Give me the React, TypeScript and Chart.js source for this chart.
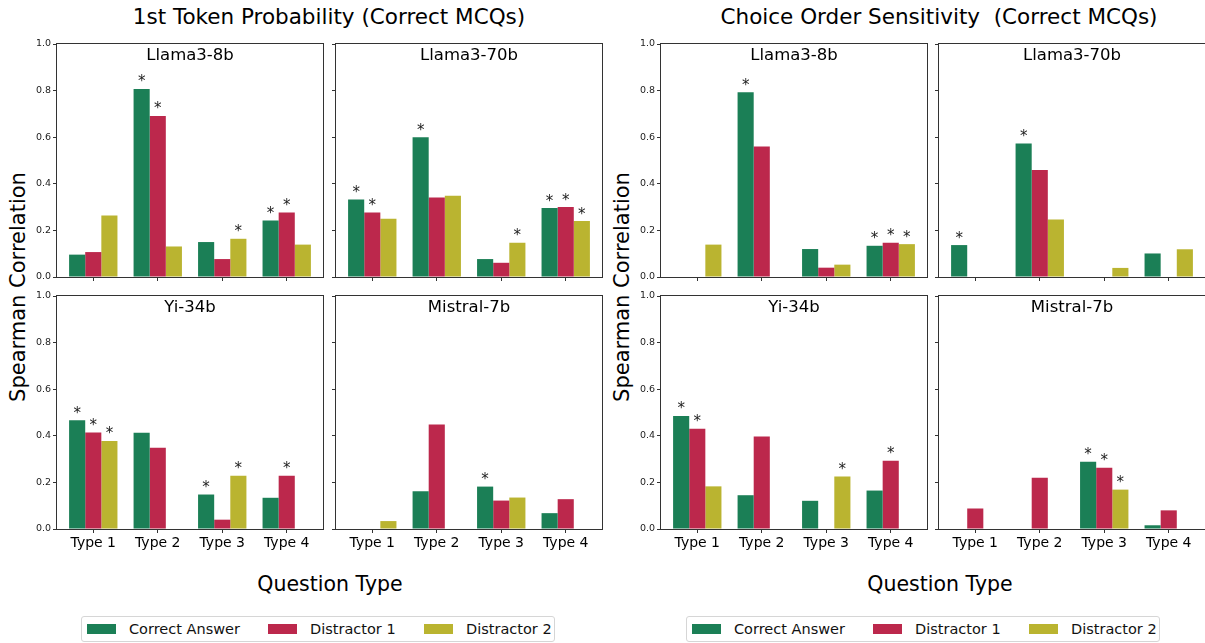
import React, { useEffect, useRef } from "react";
import { Chart, registerables } from "chart.js";

Chart.register(...registerables);

const categories = ["Type 1", "Type 2", "Type 3", "Type 4"];
const seriesNames = ["Correct Answer", "Distractor 1", "Distractor 2"];
const seriesColors = ["#1b7f56", "#bc284c", "#bab430"];
const yTickValues = [0, 0.2, 0.4, 0.6, 0.8, 1.0];
const modelNames = ["Llama3-8b", "Llama3-70b", "Yi-34b", "Mistral-7b"];
const groupTitles = ["1st Token Probability (Correct MCQs)", "Choice Order Sensitivity  (Correct MCQs)"];

// 1st Token Probability — rows: Correct Answer, Distractor 1, Distractor 2
const tokLlama8b = [
  [0.096, 0.807, 0.150, 0.243],
  [0.107, 0.691, 0.077, 0.277],
  [0.264, 0.131, 0.164, 0.139],
];
const tokLlama8bStars = [
  [0, 1, 0, 1],
  [0, 1, 0, 1],
  [0, 0, 1, 0],
];
const tokLlama70b = [
  [0.333, 0.600, 0.077, 0.296],
  [0.277, 0.341, 0.061, 0.300],
  [0.250, 0.349, 0.147, 0.240],
];
const tokLlama70bStars = [
  [1, 1, 0, 1],
  [1, 0, 0, 1],
  [0, 0, 1, 1],
];
const tokYi34b = [
  [0.467, 0.413, 0.148, 0.134],
  [0.414, 0.349, 0.040, 0.229],
  [0.378, 0.0, 0.229, 0.0],
];
const tokYi34bStars = [
  [1, 0, 1, 0],
  [1, 0, 0, 1],
  [1, 0, 1, 0],
];
const tokMistral7b = [
  [0.0, 0.162, 0.182, 0.068],
  [0.0, 0.448, 0.122, 0.128],
  [0.034, 0.0, 0.135, 0.0],
];
const tokMistral7bStars = [
  [0, 0, 1, 0],
  [0, 0, 0, 0],
  [0, 0, 0, 0],
];

// Choice Order Sensitivity
const cosLlama8b = [
  [0.0, 0.793, 0.120, 0.134],
  [0.0, 0.560, 0.040, 0.147],
  [0.139, 0.0, 0.053, 0.141],
];
const cosLlama8bStars = [
  [0, 1, 0, 1],
  [0, 0, 0, 1],
  [0, 0, 0, 1],
];
const cosLlama70b = [
  [0.137, 0.573, 0.0, 0.101],
  [0.0, 0.459, 0.0, 0.0],
  [0.0, 0.247, 0.039, 0.119],
];
const cosLlama70bStars = [
  [1, 1, 0, 0],
  [0, 0, 0, 0],
  [0, 0, 0, 0],
];
const cosYi34b = [
  [0.485, 0.145, 0.121, 0.165],
  [0.430, 0.397, 0.0, 0.293],
  [0.183, 0.0, 0.225, 0.0],
];
const cosYi34bStars = [
  [1, 0, 0, 0],
  [1, 0, 0, 1],
  [0, 0, 1, 0],
];
const cosMistral7b = [
  [0.0, 0.0, 0.289, 0.016],
  [0.088, 0.220, 0.263, 0.080],
  [0.0, 0.0, 0.169, 0.0],
];
const cosMistral7bStars = [
  [0, 0, 1, 0],
  [0, 0, 1, 0],
  [0, 0, 1, 0],
];

const FONT = "'DejaVu Sans', sans-serif";
const PADL = 34;
const PADT = 8;
const PADR = 3;
const PADB = 26;

type PanelProps = {
  values: number[][];
  stars: number[][];
  title: string;
  showX: boolean;
  showY: boolean;
  left: number;
  top: number;
  width: number;
  height: number;
};

function Panel({ values, stars, title, showX, showY, left, top, width, height }: PanelProps) {
  const ref = useRef<HTMLCanvasElement | null>(null);
  const cw = width + PADL + PADR;
  const ch = height + PADT + PADB;
  useEffect(() => {
    if (!ref.current) return;
    const framePlugin = {
      id: "frameAndMarks",
      afterDatasetsDraw(chart: any) {
        const { ctx, chartArea } = chart;
        ctx.save();
        ctx.fillStyle = "#222";
        ctx.font = `15px ${FONT}`;
        ctx.textAlign = "center";
        ctx.textBaseline = "alphabetic";
        chart.data.datasets.forEach((ds: any, di: number) => {
          const meta = chart.getDatasetMeta(di);
          meta.data.forEach((el: any, i: number) => {
            if (stars[di][i]) {
              ctx.fillText("*", el.x, el.y - 2.5);
            }
          });
        });
        ctx.strokeStyle = "#333";
        ctx.lineWidth = 1;
        ctx.strokeRect(
          Math.round(chartArea.left) - 0.5,
          Math.round(chartArea.top) - 0.5,
          Math.round(chartArea.right - chartArea.left) + 1,
          Math.round(chartArea.bottom - chartArea.top) + 1
        );
        ctx.fillStyle = "#000";
        ctx.font = `16.5px ${FONT}`;
        ctx.textAlign = "center";
        ctx.textBaseline = "alphabetic";
        ctx.fillText(title, (chartArea.left + chartArea.right) / 2, chartArea.top + 16);
        ctx.restore();
      },
    };
    const chart = new Chart(ref.current, {
      type: "bar",
      data: {
        datasets: values.map((row, si) => ({
          label: seriesNames[si],
          data: row.map((v, i) => ({ x: i, y: v })),
          backgroundColor: seriesColors[si],
          borderWidth: 0,
          categoryPercentage: 0.75,
          barPercentage: 1.0,
        })),
      },
      options: {
        responsive: false,
        animation: false,
        devicePixelRatio: 1,
        layout: { padding: { left: 0, top: PADT, right: PADR, bottom: 0 } },
        plugins: {
          legend: { display: false },
          tooltip: { enabled: false },
          title: { display: false },
        },
        scales: {
          x: {
            type: "linear",
            offset: false,
            min: -0.5625,
            max: 3.5625,
            afterBuildTicks: (s: any) => {
              s.ticks = categories.map((_, i) => ({ value: i }));
            },
            afterFit: (s: any) => {
              s.height = PADB;
              s.paddingLeft = 0;
              s.paddingRight = 0;
            },
            ticks: {
              autoSkip: false,
              maxRotation: 0,
              padding: 2,
              color: "#000",
              font: { family: FONT, size: 14 },
              callback: (v: any) => (showX ? categories[Math.round(Number(v))] : ""),
            },
            grid: { display: true, offset: false, drawOnChartArea: false, drawTicks: true, tickLength: 4, color: "#333" },
            border: { display: false },
          },
          y: {
            type: "linear",
            min: 0,
            max: 1,
            afterBuildTicks: (s: any) => {
              s.ticks = yTickValues.map((v) => ({ value: v }));
            },
            afterFit: (s: any) => {
              s.width = PADL;
              s.paddingTop = 0;
              s.paddingBottom = 0;
            },
            ticks: {
              padding: 2,
              color: "#222",
              font: { family: FONT, size: 9.5 },
              callback: (v: any) => (showY ? Number(v).toFixed(1) : ""),
            },
            grid: { display: true, drawOnChartArea: false, drawTicks: true, tickLength: 4, color: "#333" },
            border: { display: false },
          },
        },
      },
      plugins: [framePlugin],
    } as any);
    return () => chart.destroy();
  }, []);
  return (
    <canvas
      ref={ref}
      width={cw}
      height={ch}
      style={{ position: "absolute", left: left - PADL, top: top - PADT, width: cw, height: ch }}
    />
  );
}

function Legend({ left }: { left: number }) {
  const itemX = [5, 186, 342];
  return (
    <div
      style={{
        position: "absolute",
        left,
        top: 616,
        width: 474,
        height: 26,
        border: "1px solid #d6d6d6",
        borderRadius: 3,
        boxSizing: "border-box",
        background: "#fff",
      }}
    >
      {seriesNames.map((name, i) => (
        <div key={name}>
          <div
            style={{
              position: "absolute",
              left: itemX[i],
              top: 7,
              width: 29,
              height: 10,
              background: seriesColors[i],
            }}
          />
          <div
            style={{
              position: "absolute",
              left: itemX[i] + 42,
              top: 2,
              fontFamily: FONT,
              fontSize: 14.5,
              lineHeight: "20px",
              color: "#111",
              whiteSpace: "nowrap",
            }}
          >
            {name}
          </div>
        </div>
      ))}
    </div>
  );
}

function Text({ x, y, size, text, rotate }: { x: number; y: number; size: number; text: string; rotate?: boolean }) {
  return (
    <div
      style={{
        position: "absolute",
        left: x,
        top: y,
        transform: `translate(-50%, -50%)${rotate ? " rotate(-90deg)" : ""}`,
        fontFamily: FONT,
        fontSize: size,
        lineHeight: 1,
        whiteSpace: "pre",
        color: "#000",
      }}
    >
      {text}
    </div>
  );
}

const tokPanels = [
  { v: tokLlama8b, s: tokLlama8bStars },
  { v: tokLlama70b, s: tokLlama70bStars },
  { v: tokYi34b, s: tokYi34bStars },
  { v: tokMistral7b, s: tokMistral7bStars },
];
const cosPanels = [
  { v: cosLlama8b, s: cosLlama8bStars },
  { v: cosLlama70b, s: cosLlama70bStars },
  { v: cosYi34b, s: cosYi34bStars },
  { v: cosMistral7b, s: cosMistral7bStars },
];

export default function App() {
  const groups = [
    { panels: tokPanels, cols: [57, 336], center: 329, ylabX: 18, legendLeft: 81, title: groupTitles[0] },
    { panels: cosPanels, cols: [661, 939], center: 939, ylabX: 622, legendLeft: 686, title: groupTitles[1] },
  ];
  const rows = [44, 296];
  const W = 266;
  const H = 233;
  return (
    <div style={{ position: "absolute", left: 0, top: 0, width: 1205, height: 643, background: "#fff", overflow: "hidden" }}>
      {groups.map((g, gi) => (
        <React.Fragment key={gi}>
          <Text x={g.center} y={17} size={21.5} text={g.title} />
          <Text x={g.ylabX} y={287} size={21} text="Spearman Correlation" rotate />
          <Text x={g.center + 1} y={584} size={20.5} text="Question Type" />
          {g.panels.map((p, pi) => (
            <Panel
              key={pi}
              values={p.v}
              stars={p.s}
              title={modelNames[pi]}
              showX={pi >= 2}
              showY={pi % 2 === 0}
              left={g.cols[pi % 2]}
              top={rows[Math.floor(pi / 2)]}
              width={W}
              height={H}
            />
          ))}
          <Legend left={g.legendLeft} />
        </React.Fragment>
      ))}
    </div>
  );
}
